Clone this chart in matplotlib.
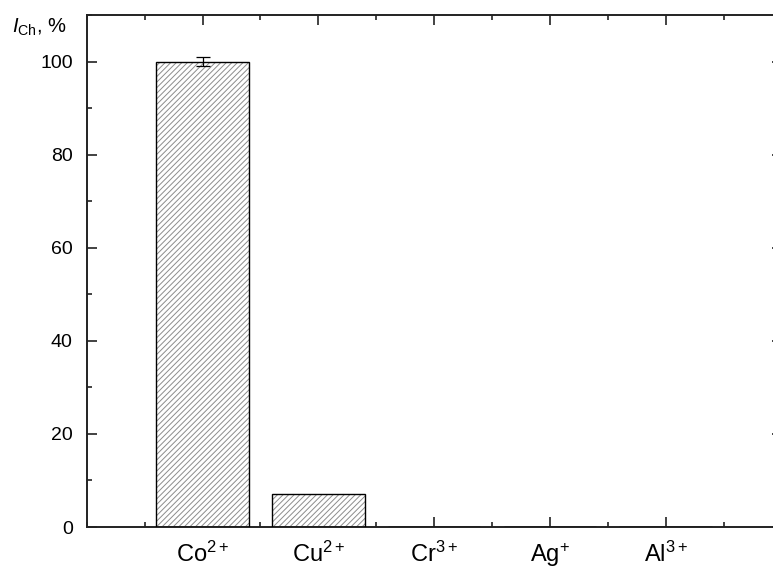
import numpy as np
import matplotlib
matplotlib.use('Agg')
import matplotlib.pyplot as plt
from matplotlib.ticker import MultipleLocator

plt.rcParams['font.family'] = ['Liberation Sans', 'DejaVu Sans']
plt.rcParams['mathtext.fontset'] = 'custom'
plt.rcParams['mathtext.rm'] = 'Liberation Sans'
plt.rcParams['mathtext.it'] = 'Liberation Sans:italic'
plt.rcParams['hatch.linewidth'] = 0.7

# Relative signal for each metal ion
ions = [r'Co$^{2+}$', r'Cu$^{2+}$', r'Cr$^{3+}$', r'Ag$^{+}$', r'Al$^{3+}$']
signal = [100.0, 7.0, 0.0, 0.0, 0.0]
signal_err = [1.0, 0.0, 0.0, 0.0, 0.0]


def main():
    fig = plt.figure(figsize=(7.73, 5.69), dpi=100)
    fig.patch.set_facecolor('white')
    # axes runs a little past the right edge of the canvas
    ax = fig.add_axes([0.1122, 0.0738, 0.8988, 0.8998])

    x = np.arange(1, len(ions) + 1)
    # hatch layer in grey, outline layer in black
    ax.bar(x, signal, width=0.8, color='white', edgecolor='#8c8c8c',
           hatch='//////', linewidth=0, zorder=2)
    ax.bar(x, signal, width=0.8, fill=False, edgecolor='black',
           linewidth=1.0, zorder=3)
    shown = np.array(signal_err) > 0
    ax.errorbar(x[shown], np.array(signal)[shown], yerr=np.array(signal_err)[shown],
                fmt='none', ecolor='black', elinewidth=0.9, capsize=5,
                capthick=0.9, zorder=4)

    ax.set_xlim(0, 6)
    ax.set_ylim(0, 110)
    ax.set_xticks(x)
    ax.set_xticklabels(ions, fontsize=17)
    ax.xaxis.set_minor_locator(MultipleLocator(0.5))
    ax.yaxis.set_major_locator(MultipleLocator(20))
    ax.yaxis.set_minor_locator(MultipleLocator(10))
    ax.set_yticks([0, 20, 40, 60, 80, 100])

    ax.tick_params(which='both', direction='in', top=True, right=True,
                   width=1.2, color='#222222')
    ax.tick_params(which='major', length=7)
    ax.tick_params(which='minor', length=3.6)
    ax.tick_params(axis='y', labelsize=14, pad=10)
    ax.tick_params(axis='x', pad=10.5)
    for s in ax.spines.values():
        s.set_linewidth(1.4)
        s.set_color('#222222')

    fig.text(0.015, 0.942, r'$\mathit{I}_{\mathrm{Ch}}$, %', fontsize=14.5,
             ha='left', va='baseline')

    fig.savefig('out.png', dpi=100)


if __name__ == '__main__':
    main()
